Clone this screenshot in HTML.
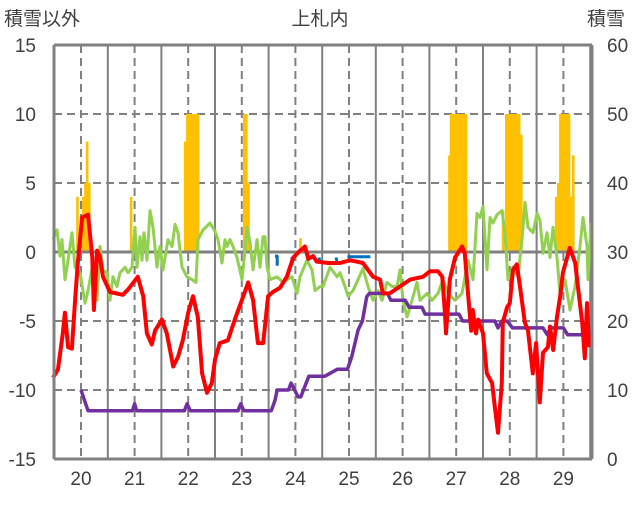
<!DOCTYPE html>
<html><head><meta charset="utf-8"><style>
body{margin:0;background:#fff;}
svg text{font-family:"Liberation Sans","Noto Sans CJK JP",sans-serif;fill:#404040;}
</style></head><body>
<svg id="c" width="636" height="501"></svg>
<script>
const dayTicks=[20,21,22,23,24,25,26,27,28,29];
const leftTicks=[15,10,5,0,-5,-10,-15];
const rightTicks=[60,50,40,30,20,10,0];
const redT=[19.48,19.57,19.66,19.70,19.76,19.83,19.89,19.94,20.02,20.13,20.21,20.24,20.30,20.35,20.41,20.54,20.78,20.88,21.06,21.16,21.23,21.32,21.38,21.51,21.60,21.72,21.81,21.90,22.00,22.09,22.18,22.26,22.35,22.44,22.50,22.59,22.74,22.87,23.00,23.12,23.21,23.30,23.40,23.49,23.58,23.71,23.84,23.96,24.09,24.18,24.24,24.33,24.40,24.61,24.83,25.02,25.15,25.26,25.45,25.58,25.63,25.76,25.95,26.14,26.38,26.51,26.66,26.74,26.79,26.81,26.88,26.98,27.11,27.16,27.22,27.28,27.31,27.37,27.41,27.50,27.57,27.67,27.72,27.78,27.85,27.87,27.95,28.00,28.06,28.13,28.19,28.28,28.34,28.43,28.49,28.56,28.62,28.71,28.75,28.81,28.88,28.94,28.99,29.12,29.22,29.27,29.35,29.40,29.44,29.48];
const redV=[-9.1,-8.5,-5.9,-4.4,-6.9,-7.0,-3.5,-0.8,2.5,2.7,-0.4,-4.2,0.1,-0.3,-1.8,-2.9,-3.1,-2.7,-1.8,-3.2,-5.9,-6.7,-5.7,-4.9,-5.9,-8.3,-7.6,-6.4,-4.4,-3.2,-4.7,-8.8,-10.2,-9.5,-7.8,-6.6,-6.4,-4.9,-3.5,-2.2,-3.5,-6.6,-6.6,-3.2,-2.9,-2.6,-1.8,-0.4,0.1,0.4,-0.5,-0.3,-0.7,-0.8,-0.8,-0.6,-0.7,-0.8,-1.8,-2.0,-3.0,-3.0,-2.5,-2.0,-1.8,-1.4,-1.4,-1.8,-4.4,-5.9,-2.0,-0.4,0.4,-0.1,-3.0,-5.7,-4.2,-5.9,-4.9,-5.9,-8.8,-9.5,-11.2,-13.1,-9.5,-5.1,-4.0,-3.7,-1.3,-0.9,-2.5,-5.1,-5.7,-8.8,-6.6,-10.9,-7.3,-6.9,-5.4,-7.1,-4.7,-3.2,-1.5,0.3,-0.8,-2.5,-5.1,-7.7,-3.7,-6.9];
const greenPx=[53,57,60,62,65,68,72,75,80,85,88,93,97,100,103,107,110,113,117,120,125,128,132,135,137,140,142,144,147,150,153,157,160,163,168,172,175,178,182,187,192,196,198,203,210,215,218,222,225,227,230,233,237,242,245,247,250,253,257,260,263,265,267,270,277,283,287,292,297,300,307,312,315,320,323,330,337,340,345,348,353,358,363,368,373,378,382,387,392,397,400,403,407,412,417,420,427,432,438,443,448,455,462,468,473,477,480,483,487,490,493,497,502,505,508,513,518,522,525,528,533,537,540,543,547,550,553,557,560,565,570,575,580,583,587,588,591];
const greenV=[0.9,1.6,-0.3,0.9,-2.0,-0.6,1.4,-1.1,-1.5,-3.7,-2.8,-0.8,-3.5,0.4,-1.3,-1.5,-3.5,-1.8,-2.5,-1.5,-1.1,-1.5,-1.1,1.8,-1.1,1.1,-0.6,1.4,-0.6,3.0,1.8,-1.1,0.4,-1.3,0.9,0.4,2.0,1.4,-1.1,-1.8,-2.0,-2.2,0.9,1.6,2.1,1.5,0.9,-0.8,0.9,0.4,0.9,0.4,-0.4,-2.0,0.1,1.8,0.7,-1.3,0.9,-1.1,1.1,1.1,-1.1,-2.0,-1.8,-2.2,-2.0,-1.8,-3.0,-1.8,-0.6,-1.3,-2.8,-2.5,-2.5,-1.1,-1.8,-1.5,-2.5,-3.2,-2.8,-2.0,-1.2,-2.5,-3.5,-2.8,-3.5,-2.2,-2.5,-2.5,-1.3,-3.5,-4.7,-3.5,-2.2,-3.5,-3.0,-3.5,-3.0,-2.0,-3.0,-3.5,-3.0,-0.6,-2.0,2.8,2.5,3.3,-1.3,2.5,2.1,2.7,3.0,1.4,-2.0,-1.1,-1.8,0.9,3.6,1.8,1.4,2.8,2.3,-0.1,1.4,-0.4,1.8,-0.4,-3.0,-2.0,-4.2,-2.5,0.4,2.5,0.4,-2.0,2.1];
const purpleT=[20.0,20.13,20.96,21.0,21.04,21.93,21.98,22.04,22.93,22.98,23.04,23.55,23.62,23.66,23.87,23.92,24.05,24.10,24.25,24.33,24.55,24.78,24.97,25.05,25.17,25.25,25.33,25.38,25.72,25.78,26.05,26.12,26.36,26.42,27.05,27.12,27.72,27.78,27.85,27.95,28.05,28.62,28.70,28.76,29.0,29.08,29.48];
const purpleV=[10,7,7,8,7,7,8,7,7,8,7,7,8.5,10,10,11,9,9,12,12,12,13,13,14.8,18.7,20,23.5,24,24,23,23,22,22,21,21,20,20,19,20,20,19,19,18,19,19,18,18];
const snowT=[19.91,20.02,20.06,20.09,20.13,20.91,21.92,21.96,22.0,22.04,22.08,22.12,22.16,23.02,23.06,23.10,24.07,26.85,26.88,26.92,26.96,27.0,27.04,27.08,27.12,27.16,27.85,27.91,27.95,27.99,28.03,28.07,28.11,28.15,28.19,28.84,28.88,28.92,28.96,29.0,29.04,29.08,29.12,29.16];
const snowV=[38,38,40,46,40,38,46,50,50,50,50,50,50,50,50,40,32,44,50,50,50,50,50,50,50,50,36,50,50,50,50,50,50,50,47,38,40,50,50,50,50,50,38,44];
const blueT=[23.62,23.66,23.66,null,23.93,23.95,null,24.44,24.46,null,24.76,24.78,null,24.97,25.04,25.18,25.40];
const blueV=[-0.3,-0.3,-1.0,null,-0.4,-0.8,null,-0.4,-0.8,null,-0.4,-0.8,null,-0.35,-0.35,-0.35,-0.35];

const NS="http://www.w3.org/2000/svg";
const svg=document.getElementById('c');
const X0=54,X1=592,Y0=45,Y1=459;
const dx=53.6;
const xd=d=>81+(d-20)*dx;
const xpx=p=>p;
const yl=v=>Y0+(15-v)/30*(Y1-Y0);
const yr=v=>Y0+(60-v)/60*(Y1-Y0);
function mk(tag,attrs){const e=document.createElementNS(NS,tag);for(const k in attrs)e.setAttribute(k,attrs[k]);svg.appendChild(e);return e;}

leftTicks.forEach(v=>{
  if(v===15||v===-15)return;
  const l=mk('line',{x1:X0,x2:X1,y1:yl(v),y2:yl(v),stroke:'#808080','stroke-width':v===0?3:2,'stroke-dasharray':v===0?'none':'8,5'});
  
  
});
dayTicks.forEach(d=>{
  const l=mk('line',{x1:xd(d),x2:xd(d),y1:Y0,y2:Y1,stroke:'#808080','stroke-width':2,'stroke-dasharray':'8,5'});
  
  
  const s=mk('line',{x1:xd(d+0.5),x2:xd(d+0.5),y1:Y0,y2:Y1,stroke:'#808080','stroke-width':2});
  
  
});

const base=yr(30);
snowT.forEach((t,i)=>{
  const b=mk('rect',{x:xd(t),y:yr(snowV[i]),width:dx/24+0.4,height:base-yr(snowV[i]),fill:'#FFC000'});
  
  
});
const z=mk('line',{x1:X0,x2:X1,y1:yl(0),y2:yl(0),stroke:'#808080','stroke-width':3});



function line(ts,vs,xf,yf,col,w,name){
  let d='',pen=false;
  ts.forEach((t,i)=>{if(t===null){pen=false;return;}d+=(pen?'L':'M')+xf(t).toFixed(1)+','+yf(vs[i]).toFixed(1)+' ';pen=true;});
  const p=mk('path',{d:d,fill:'none',stroke:col,'stroke-width':w,'stroke-linejoin':'round'});
  
  
}
line(blueT,blueV,xd,yl,'#0070C0',3,'blue-series-line');
line(greenPx,greenV,xpx,yl,'#92D050',3,'green-series-line');
line(purpleT,purpleV,xd,yr,'#7030A0',3.5,'snow-depth-line');
line(redT,redV,xd,yl,'#FF0000',4,'red-series-line');

[[X0,Y0,X0,Y1],[X1,Y0,X1,Y1],[X0,Y0,X1,Y0],[X0,Y1,X1,Y1]].forEach(a=>{
  const l=mk('line',{x1:a[0],y1:a[1],x2:a[2],y2:a[3],stroke:'#808080','stroke-width':3});
  
  
});

leftTicks.forEach(v=>{
  const t=mk('text',{x:36,y:yl(v)+7,'text-anchor':'end','font-size':19});
  t.textContent=v;
  
  
});
rightTicks.forEach(v=>{
  const t=mk('text',{x:607,y:yr(v)+7,'text-anchor':'start','font-size':19});
  t.textContent=v;
  
  
});
dayTicks.forEach(d=>{
  const t=mk('text',{x:xd(d),y:485,'text-anchor':'middle','font-size':19});
  t.textContent=d;
  
  
});
const tt=mk('text',{x:320,y:25,'text-anchor':'middle','font-size':19});
tt.textContent='上札内';


const lt=mk('text',{x:4,y:25,'font-size':19});
lt.textContent='積雪以外';


const rt=mk('text',{x:587,y:25,'font-size':19});
rt.textContent='積雪';


</script>
</body></html>
